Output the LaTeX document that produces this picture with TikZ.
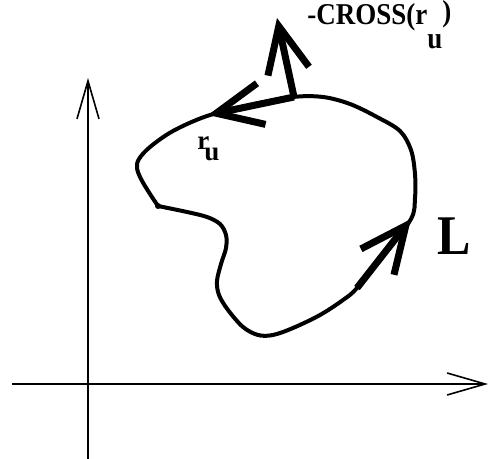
\documentclass[tikz,border=0pt]{standalone}
\usepackage{graphicx}
\usepackage{fontspec}
\setmainfont{Liberation Serif}
\usetikzlibrary{arrows.meta}

\begin{document}
\begin{tikzpicture}[x=0.5pt, y=-0.5pt,
    axis/.style={line width=0.8pt, -{Straight Barb[length=19pt, width=11pt]}},
    vec/.style={line width=3.5pt, -{Straight Barb[length=23pt, width=21pt]}},
    lbl/.style={anchor=base west, inner sep=0pt}]
  \useasboundingbox (0,0) rectangle (488,459);
  % axes
  \coordinate (xs) at (12,384);
  \coordinate (xe) at (488,384);
  \coordinate (ys) at (88,459);
  \coordinate (ye) at (88,78);
  \draw[axis] (xs) -- (xe);
  \draw[axis] (ys) -- (ye);
  % the loop L
  \coordinate (kink) at (158,206);
  \draw[line width=2pt, line join=round] plot[smooth, tension=0.55] coordinates {
      (158,206) (187,212) (207,217) (220,224) (226,235) (226,248) (221,264)
      (217,281) (219,295) (228,310) (243,327) (258,335) (273,335) (293,328)
      (320,315) (343,300) (357,288) (385,253) (411,219) (415,198) (415,174)
      (411,150) (400,131) (377,117) (350,104) (323,97) (293,97) (250,105)
      (207,116) (173,131) (150,147) (139,159) (137,168) (141,179) (150,194)
      (158,206)};
  \fill (kink) circle (3);
  % vectors on the loop
  \coordinate (p) at (294,97);
  \coordinate (n) at (277,18);
  \coordinate (t) at (208,115);
  \coordinate (q0) at (357,288);
  \coordinate (q1) at (411,219);
  \draw[vec] (p) -- (n);
  \draw[vec] (p) -- (t);
  \draw[vec] (q0) -- (q1);
  % labels
  \node[lbl, font=\fontsize{13.5pt}{14pt}\bfseries] (cross) at (307,25)
    {\scalebox{1}[1.12]{-CROSS(r\raisebox{-10.3pt}{u}\raisebox{1.5pt}{)}}};
  \node[lbl, font=\fontsize{13.5pt}{14pt}\bfseries] (ru) at (197,150)
    {r\kern-2.5pt\raisebox{-5.5pt}{u}};
  \node[lbl, font=\fontsize{25pt}{27pt}\bfseries] (L) at (437,255)
    {\scalebox{1}[1.12]{L}};
\end{tikzpicture}
\end{document}
